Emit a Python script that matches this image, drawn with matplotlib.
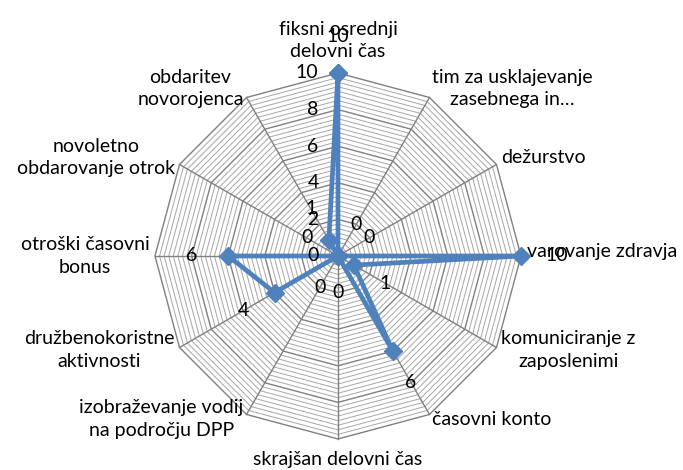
import numpy as np
import matplotlib.pyplot as plt

# categories (clockwise from the top) and the single series of the radar chart
categories = ['fiksni osrednji\ndelovni čas', 'tim za usklajevanje\nzasebnega in…',
              'dežurstvo', 'varovanje zdravja', 'komuniciranje z\nzaposlenimi',
              'časovni konto', 'skrajšan delovni čas',
              'izobraževanje vodij\nna področju DPP', 'družbenokoristne\naktivnosti',
              'otroški časovni\nbonus', 'novoletno\nobdarovanje otrok',
              'obdaritev\nnovorojenca']
values = [10, 0, 0, 10, 1, 6, 0, 0, 4, 6, 0, 1]
major_ticks = [0, 2, 4, 6, 8, 10]
minor_step = 0.25

plt.rcParams['font.family'] = ['Lato', 'DejaVu Sans']
blue = '#4F81BD'
fs = 14

n = len(categories)
angles = np.arange(n) * 2 * np.pi / n
ang_c = np.append(angles, angles[0])
rmax = major_ticks[-1]

fig = plt.figure(figsize=(6.83, 4.70), dpi=100)
ax = fig.add_axes([0.2269, 0.066, 0.5359, 0.7787], projection='polar')
ax.set_theta_zero_location('N')
ax.set_theta_direction(-1)
ax.set_ylim(0, rmax)
ax.set_axis_off()

# polygon gridlines: minor and major
levels = np.arange(minor_step, rmax + 1e-9, minor_step)
for r in levels:
    is_major = abs(r / 2 - round(r / 2)) < 1e-9
    ax.plot(ang_c, [r] * (n + 1),
            color='#808080' if is_major else '#A6A6A6',
            lw=1.0 if is_major else 0.7, zorder=1, clip_on=False)

# spokes
for a in angles:
    ax.plot([a, a], [0, rmax], color='#808080', lw=1.0, zorder=1, clip_on=False)

# series
vals_c = values + values[:1]
ax.plot(ang_c, vals_c, color=blue, lw=3.4, marker='D', ms=9,
        mec=blue, mfc=blue, zorder=5, clip_on=False)

# value axis labels along the top spoke
for t in major_ticks:
    ax.annotate(str(t), xy=(0, t), xytext=(-14, 0), textcoords='offset points',
                ha='right', va='center', fontsize=fs, zorder=6)

# data labels pushed outward from every point
for a, v in zip(angles, values):
    dx, dy = 26 * np.sin(a), 26 * np.cos(a)
    ax.annotate(str(v), xy=(a, v), xytext=(dx, dy), textcoords='offset points',
                ha='center', va='center', fontsize=fs, zorder=6)

# category labels outside the outer polygon
for a, lab in zip(angles, categories):
    s, c = np.sin(a), np.cos(a)
    if abs(s) < 1e-6:
        ha = 'center'
    elif s > 0:
        ha = 'left'
    else:
        ha = 'right'
    if c > 0.99:
        va, off = 'bottom', (0, 9)
    elif c < -0.99:
        va, off = 'top', (0, -9)
    else:
        va, off = 'center', (4 * s, 4 * c + (3 if c > 0 else 0))
    ax.annotate(lab, xy=(a, rmax), xytext=off,
                textcoords='offset points', ha=ha, va=va, fontsize=fs,
                multialignment='center', linespacing=1.4, zorder=6)

fig.savefig('out.png', dpi=100)
